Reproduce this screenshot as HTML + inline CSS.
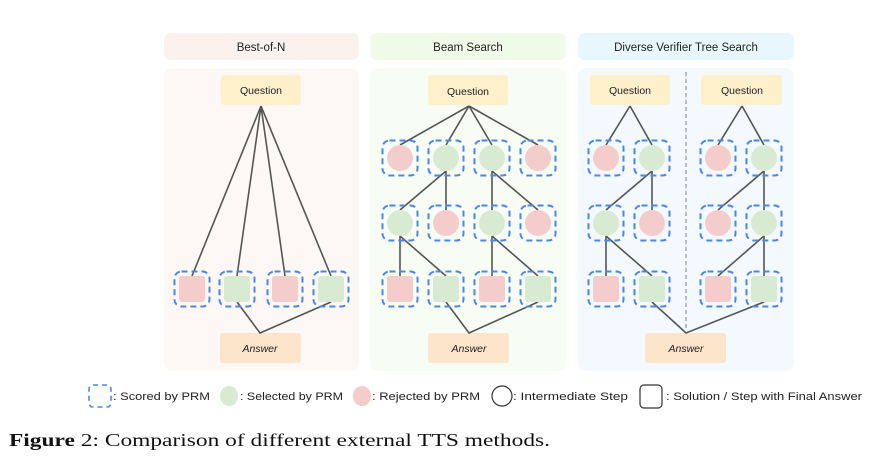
<!DOCTYPE html>
<html><head><meta charset="utf-8"><style>
body{margin:0;background:#fff;width:896px;height:469px;overflow:hidden}
.s{font-family:"Liberation Sans",sans-serif}
</style></head><body>
<svg width="896" height="469" viewBox="0 0 896 469" xmlns="http://www.w3.org/2000/svg">
<defs>
<g id="db"><rect x="-17.5" y="-17.5" width="35" height="35" rx="7" fill="none" stroke="#4a86e8" stroke-width="2" stroke-dasharray="6,4"/></g>
</defs>
<rect x="164" y="33" width="195" height="27" rx="7" fill="#fcf2ed"/>
<rect x="164" y="68" width="195" height="303" rx="8" fill="#fdf8f5"/>
<rect x="370" y="33" width="196" height="27" rx="7" fill="#effbe8"/>
<rect x="370" y="68" width="196" height="303" rx="8" fill="#f7fdf4"/>
<rect x="578" y="33" width="216" height="27" rx="7" fill="#e8f7fd"/>
<rect x="578" y="68" width="216" height="303" rx="8" fill="#f3f9fe"/>
<g class="s" font-size="11.5" fill="#222" text-anchor="middle">
<text x="261" y="51">Best-of-N</text>
<text x="468" y="51">Beam Search</text>
<text x="686" y="51">Diverse Verifier Tree Search</text>
</g>
<line x1="686" y1="72" x2="686" y2="330" stroke="#999" stroke-width="1.3" stroke-dasharray="4,3"/>
<g fill="#fff0cc">
<rect x="221" y="75" width="80" height="30" rx="3"/>
<rect x="428" y="75" width="80" height="30" rx="3"/>
<rect x="590" y="75" width="80" height="30" rx="3"/>
<rect x="701" y="75" width="81" height="30" rx="3"/>
</g>
<g fill="#fde5cb">
<rect x="220" y="333" width="81" height="30" rx="3"/>
<rect x="428" y="333" width="81" height="30" rx="3"/>
<rect x="645" y="333" width="81" height="30" rx="3"/>
</g>
<g class="s" font-size="10.5" fill="#222" text-anchor="middle">
<text x="261" y="94">Question</text>
<text x="468" y="95">Question</text>
<text x="630" y="94">Question</text>
<text x="742" y="94">Question</text>
<text x="260" y="352" font-style="italic">Answer</text>
<text x="469" y="352" font-style="italic">Answer</text>
<text x="686" y="352" font-style="italic">Answer</text>
</g>
<g stroke="#555" stroke-width="1.6" fill="none">
<path d="M261 106L192 276M261 106L237 276M261 106L285 276M261 106L331 276M237 302L260 333L331 302"/>
<path d="M469 106L400 145M469 106L446 145M469 106L492 145M469 106L538 145"/>
<path d="M446 171L400 210M446 171L446 210M492 171L492 210M492 171L538 210"/>
<path d="M400 236L400 276M400 236L446 276M492 236L492 276M492 236L538 276"/>
<path d="M446 302L469 333L538 302"/>
<path d="M630 106L606 145M630 106L652 145M652 171L606 210M652 171L652 210M606 236L606 276M606 236L652 276"/>
<path d="M742 106L718 145M742 106L764 145M764 171L718 210M764 171L764 210M764 236L718 276M764 236L764 276"/>
<path d="M652 302L686 333L764 302"/>
</g>
<g>
<use href="#db" x="400" y="158"/><circle cx="400" cy="158" r="13" fill="#f4cccc"/>
<use href="#db" x="446" y="158"/><circle cx="446" cy="158" r="13" fill="#d9ead3"/>
<use href="#db" x="492" y="158"/><circle cx="492" cy="158" r="13" fill="#d9ead3"/>
<use href="#db" x="538" y="158"/><circle cx="538" cy="158" r="13" fill="#f4cccc"/>
<use href="#db" x="606" y="158"/><circle cx="606" cy="158" r="13" fill="#f4cccc"/>
<use href="#db" x="652" y="158"/><circle cx="652" cy="158" r="13" fill="#d9ead3"/>
<use href="#db" x="718" y="158"/><circle cx="718" cy="158" r="13" fill="#f4cccc"/>
<use href="#db" x="764" y="158"/><circle cx="764" cy="158" r="13" fill="#d9ead3"/>
<use href="#db" x="400" y="223"/><circle cx="400" cy="223" r="13" fill="#d9ead3"/>
<use href="#db" x="446" y="223"/><circle cx="446" cy="223" r="13" fill="#f4cccc"/>
<use href="#db" x="492" y="223"/><circle cx="492" cy="223" r="13" fill="#d9ead3"/>
<use href="#db" x="538" y="223"/><circle cx="538" cy="223" r="13" fill="#f4cccc"/>
<use href="#db" x="606" y="223"/><circle cx="606" cy="223" r="13" fill="#d9ead3"/>
<use href="#db" x="652" y="223"/><circle cx="652" cy="223" r="13" fill="#f4cccc"/>
<use href="#db" x="718" y="223"/><circle cx="718" cy="223" r="13" fill="#f4cccc"/>
<use href="#db" x="764" y="223"/><circle cx="764" cy="223" r="13" fill="#d9ead3"/>
<use href="#db" x="192" y="289"/><rect x="179" y="276" width="26" height="26" rx="3" fill="#f4cccc"/>
<use href="#db" x="237" y="289"/><rect x="224" y="276" width="26" height="26" rx="3" fill="#d9ead3"/>
<use href="#db" x="285" y="289"/><rect x="272" y="276" width="26" height="26" rx="3" fill="#f4cccc"/>
<use href="#db" x="331" y="289"/><rect x="318" y="276" width="26" height="26" rx="3" fill="#d9ead3"/>
<use href="#db" x="400" y="289"/><rect x="387" y="276" width="26" height="26" rx="3" fill="#f4cccc"/>
<use href="#db" x="446" y="289"/><rect x="433" y="276" width="26" height="26" rx="3" fill="#d9ead3"/>
<use href="#db" x="492" y="289"/><rect x="479" y="276" width="26" height="26" rx="3" fill="#f4cccc"/>
<use href="#db" x="538" y="289"/><rect x="525" y="276" width="26" height="26" rx="3" fill="#d9ead3"/>
<use href="#db" x="606" y="289"/><rect x="593" y="276" width="26" height="26" rx="3" fill="#f4cccc"/>
<use href="#db" x="652" y="289"/><rect x="639" y="276" width="26" height="26" rx="3" fill="#d9ead3"/>
<use href="#db" x="718" y="289"/><rect x="705" y="276" width="26" height="26" rx="3" fill="#f4cccc"/>
<use href="#db" x="764" y="289"/><rect x="751" y="276" width="26" height="26" rx="3" fill="#d9ead3"/>
</g>
<rect x="89" y="385" width="22" height="22" rx="4" fill="none" stroke="#4a86e8" stroke-width="1.6" stroke-dasharray="5,4"/>
<ellipse cx="229" cy="396" rx="9" ry="10" fill="#d9ead3"/>
<ellipse cx="362" cy="396" rx="9" ry="10" fill="#f4cccc"/>
<circle cx="502" cy="396" r="10" fill="none" stroke="#333" stroke-width="1.2"/>
<rect x="640" y="385" width="22" height="23" rx="4" fill="none" stroke="#333" stroke-width="1.2"/>
<g class="s" font-size="11" fill="#222">
<text x="113" y="400" textLength="97" lengthAdjust="spacingAndGlyphs">: Scored by PRM</text>
<text x="240" y="400" textLength="103" lengthAdjust="spacingAndGlyphs">: Selected by PRM</text>
<text x="372" y="400" textLength="108" lengthAdjust="spacingAndGlyphs">: Rejected by PRM</text>
<text x="513" y="400" textLength="115" lengthAdjust="spacingAndGlyphs">: Intermediate Step</text>
<text x="666" y="400" textLength="196" lengthAdjust="spacingAndGlyphs">: Solution / Step with Final Answer</text>
</g>
<text x="9" y="446" style="font-family:'Liberation Serif',serif" font-size="18" fill="#111" textLength="541" lengthAdjust="spacingAndGlyphs"><tspan font-weight="bold">Figure</tspan> 2: Comparison of different external TTS methods.</text>
</svg>
</body></html>
